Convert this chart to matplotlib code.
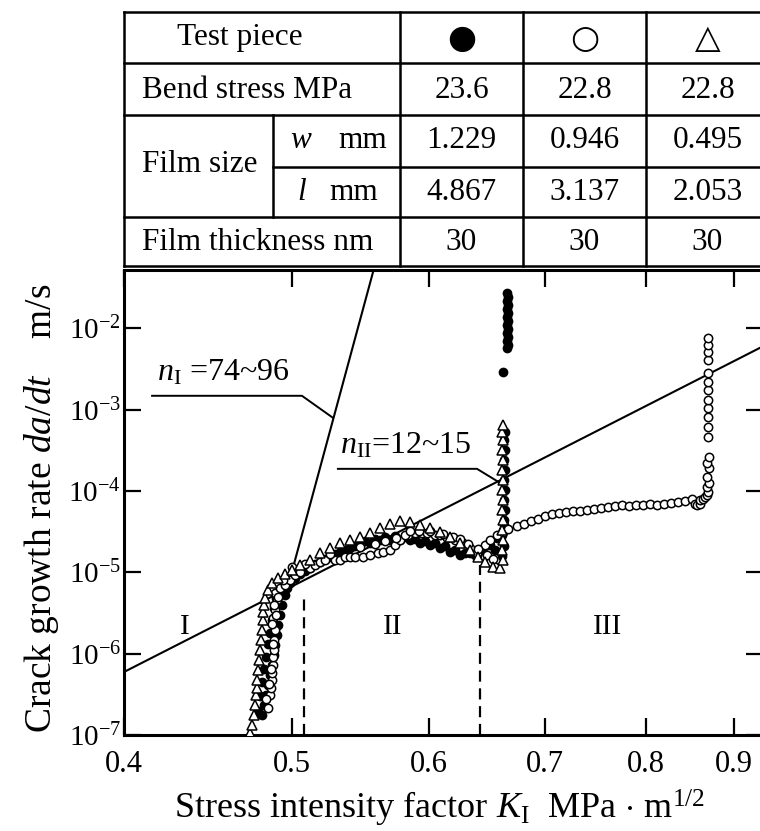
import matplotlib
matplotlib.use("Agg")
import matplotlib.pyplot as plt
from matplotlib.ticker import FixedLocator, NullLocator, FixedFormatter

plt.rcParams["font.family"] = ["Liberation Serif", "DejaVu Serif"]
plt.rcParams["mathtext.fontset"] = "custom"
plt.rcParams["mathtext.rm"] = "Liberation Serif"
plt.rcParams["mathtext.it"] = "Liberation Serif:italic"

# ---- table above the plot ----
test_pieces = ["\u25cf", "\u25cb", "\u25b3"]
bend_stress = ["23.6", "22.8", "22.8"]
film_w = ["1.229", "0.946", "0.495"]
film_l = ["4.867", "3.137", "2.053"]
film_thickness = ["30", "30", "30"]

# ---- measured crack growth data (K_I in MPa m^1/2, da/dt in m/s) ----
filled_K = [0.4804, 0.4817, 0.4830, 0.4843, 0.4856, 0.4869, 0.4882, 0.4888, 0.4901, 0.4908,
            0.4921, 0.4934, 0.4954, 0.4967, 0.4987, 0.5020, 0.5053, 0.5121, 0.5190, 0.5259,
            0.5330, 0.5401, 0.5473, 0.5546, 0.5620, 0.5695, 0.5771, 0.5849, 0.5927, 0.6006,
            0.6086, 0.6168, 0.6250, 0.6334, 0.6419, 0.6505, 0.6566, 0.6618,
            0.6627, 0.6636, 0.6627, 0.6636, 0.6627, 0.6636, 0.6627, 0.6636, 0.6627, 0.6636,
            0.6618,
            0.6650, 0.6660, 0.6650, 0.6660, 0.6650, 0.6660, 0.6650, 0.6660, 0.6650, 0.6660,
            0.6650, 0.6660, 0.6650, 0.6660, 0.6650,
            0.4779, 0.4792, 0.4804, 0.4817, 0.4830, 0.4843, 0.4856, 0.4869, 0.4882, 0.4895,
            0.4921, 0.4954, 0.5087, 0.5155, 0.5224, 0.5294, 0.5365, 0.5437, 0.5510, 0.5583,
            0.5658, 0.5733, 0.5810, 0.5888, 0.5967, 0.6046, 0.6127, 0.6209, 0.6292, 0.6377,
            0.6462, 0.6548, 0.6610, 0.6627, 0.6610, 0.6627]
filled_rate = [1.76e-7, 2.34e-7, 3.10e-7, 4.12e-7, 5.47e-7, 7.26e-7, 9.64e-7, 1.28e-6, 1.70e-6, 2.25e-6,
               2.99e-6, 3.97e-6, 5.27e-6, 6.43e-6, 7.41e-6, 8.53e-6, 9.56e-6, 1.13e-5, 1.34e-5, 1.55e-5,
               1.78e-5, 2.00e-5, 2.17e-5, 2.30e-5, 2.50e-5, 2.50e-5, 2.50e-5, 2.50e-5, 2.30e-5, 2.17e-5,
               2.00e-5, 1.78e-5, 1.64e-5, 1.73e-5, 1.89e-5, 2.17e-5, 2.65e-5, 3.32e-5,
               4.41e-5, 5.86e-5, 7.77e-5, 1.03e-4, 1.37e-4, 1.82e-4, 2.41e-4, 3.20e-4, 4.25e-4, 5.33e-4,
               2.92e-3,
               5.76e-3, 6.27e-3, 7.02e-3, 7.86e-3, 8.80e-3, 9.86e-3, 1.10e-2, 1.24e-2, 1.39e-2, 1.55e-2,
               1.74e-2, 1.95e-2, 2.18e-2, 2.44e-2, 2.73e-2,
               2.0e-7, 3.0e-7, 4.5e-7, 6.5e-7, 9.0e-7, 1.3e-6, 1.8e-6, 2.6e-6, 3.6e-6, 4.8e-6,
               6.0e-6, 7.0e-6, 1.05e-5, 1.25e-5, 1.45e-5, 1.70e-5, 1.90e-5, 2.10e-5, 2.40e-5, 2.60e-5,
               2.75e-5, 2.80e-5, 2.70e-5, 2.60e-5, 2.45e-5, 2.30e-5, 2.10e-5, 1.90e-5, 1.75e-5, 1.65e-5,
               1.70e-5, 1.90e-5, 1.6e-5, 2.1e-5, 2.9e-5, 3.8e-5]

open_K = [0.4843, 0.4856, 0.4862, 0.4869, 0.4869, 0.4875, 0.4875, 0.4882, 0.4882, 0.4888,
          0.4875, 0.4888, 0.4901, 0.4888, 0.4921, 0.4954, 0.4987, 0.5020, 0.5053, 0.5121,
          0.5155, 0.5190, 0.5224, 0.5294, 0.5330, 0.5365, 0.5401, 0.5437, 0.5495, 0.5546,
          0.5605, 0.5643, 0.5695, 0.5733, 0.5771, 0.5833, 0.5888, 0.5943, 0.5982, 0.6046,
          0.6086, 0.6143, 0.6209, 0.6276, 0.6334, 0.6394, 0.6462, 0.6505, 0.6548,
          0.6462, 0.6505, 0.6566, 0.6618, 0.6662, 0.6740, 0.6803, 0.6866, 0.6930, 0.6995,
          0.7061, 0.7127, 0.7193, 0.7260, 0.7328, 0.7396, 0.7465, 0.7535, 0.7605, 0.7676,
          0.7748, 0.7820, 0.7893, 0.7967, 0.8046, 0.8121, 0.8197, 0.8273, 0.8350, 0.8428,
          0.8507, 0.8541, 0.8564, 0.8598, 0.8598, 0.8633, 0.8656, 0.8679, 0.8690,
          0.8680, 0.8700, 0.8680, 0.8700, 0.8680, 0.8700, 0.8690, 0.8690, 0.8690, 0.8690,
          0.8690, 0.8690, 0.8690, 0.8690, 0.8690, 0.8690, 0.8690, 0.8690,
          0.4830, 0.4850, 0.4862, 0.4875, 0.4869, 0.4895, 0.4882, 0.4908, 0.4940, 0.5000,
          0.5087, 0.5259, 0.5470, 0.5580, 0.5660, 0.5740, 0.5810, 0.5850, 0.5920, 0.6010,
          0.6110, 0.6190, 0.6250, 0.6320, 0.6400, 0.6480, 0.6530]
open_rate = [2.15e-7, 3.10e-7, 3.79e-7, 4.75e-7, 5.79e-7, 7.26e-7, 9.11e-7, 1.11e-6, 1.47e-6, 1.96e-6,
             2.75e-6, 3.45e-6, 4.57e-6, 5.58e-6, 6.43e-6, 7.00e-6, 8.06e-6, 9.29e-6, 1.01e-5, 1.13e-5,
             1.23e-5, 1.34e-5, 1.42e-5, 1.42e-5, 1.42e-5, 1.55e-5, 1.55e-5, 1.55e-5, 1.55e-5, 1.64e-5,
             1.73e-5, 1.78e-5, 1.89e-5, 2.17e-5, 2.50e-5, 2.88e-5, 3.05e-5, 3.05e-5, 3.05e-5, 2.88e-5,
             2.88e-5, 2.65e-5, 2.50e-5, 2.30e-5, 2.00e-5, 1.73e-5, 1.55e-5, 1.34e-5, 1.17e-5,
             2.17e-5, 2.50e-5, 2.88e-5, 3.14e-5, 3.42e-5, 3.72e-5, 3.94e-5, 4.29e-5, 4.54e-5, 4.94e-5,
             5.23e-5, 5.38e-5, 5.53e-5, 5.69e-5, 5.69e-5, 5.86e-5, 6.02e-5, 6.20e-5, 6.37e-5, 6.56e-5,
             6.75e-5, 6.56e-5, 6.75e-5, 6.75e-5, 6.94e-5, 6.75e-5, 6.94e-5, 7.14e-5, 7.34e-5, 7.55e-5,
             7.99e-5, 6.94e-5, 6.75e-5, 6.94e-5, 7.77e-5, 7.99e-5, 8.46e-5, 8.95e-5, 9.75e-5,
             1.12e-4, 1.26e-4, 1.49e-4, 1.92e-4, 2.22e-4, 2.63e-4, 4.63e-4, 6.14e-4, 8.15e-4, 1.05e-3,
             1.32e-3, 1.75e-3, 2.20e-3, 2.84e-3, 4.10e-3, 5.14e-3, 6.27e-3, 7.64e-3,
             2.8e-7, 4.2e-7, 6.5e-7, 1.3e-6, 2.3e-6, 3.0e-6, 4.0e-6, 5.0e-6, 8.0e-6, 1.15e-5,
             1.25e-5, 1.70e-5, 2.05e-5, 2.25e-5, 2.45e-5, 2.65e-5, 2.90e-5, 3.20e-5, 3.25e-5, 3.20e-5,
             2.95e-5, 2.75e-5, 2.55e-5, 2.25e-5, 1.95e-5, 1.65e-5, 1.45e-5]

tri_K = [0.4728, 0.4741, 0.4753, 0.4760, 0.4766, 0.4772, 0.4772, 0.4779, 0.4785, 0.4792,
         0.4798, 0.4804, 0.4811, 0.4811, 0.4817, 0.4824, 0.4843, 0.4869, 0.4908, 0.4954,
         0.5000, 0.5053, 0.5121, 0.5190, 0.5259, 0.5330, 0.5401, 0.5473, 0.5546, 0.5620,
         0.5695, 0.5771, 0.5849, 0.5927, 0.6006, 0.6086, 0.6168, 0.6250, 0.6334, 0.6402,
         0.6462, 0.6531, 0.6592,
         0.6618, 0.6610, 0.6618, 0.6610, 0.6618, 0.6610, 0.6618, 0.6610, 0.6618, 0.6610,
         0.6618, 0.6610, 0.6618, 0.6610, 0.6618]
tri_rate = [1.06e-7, 1.33e-7, 1.76e-7, 2.34e-7, 3.10e-7, 3.79e-7, 4.75e-7, 6.30e-7, 8.37e-7, 1.11e-6,
            1.47e-6, 1.96e-6, 2.60e-6, 3.26e-6, 3.97e-6, 4.84e-6, 6.07e-6, 7.41e-6, 8.53e-6, 9.56e-6,
            1.07e-5, 1.23e-5, 1.42e-5, 1.73e-5, 2.00e-5, 2.30e-5, 2.50e-5, 2.72e-5, 3.05e-5, 3.52e-5,
            3.94e-5, 4.29e-5, 4.17e-5, 3.83e-5, 3.52e-5, 3.14e-5, 2.72e-5, 2.30e-5, 1.89e-5, 1.55e-5,
            1.34e-5, 1.17e-5, 1.13e-5,
            1.42e-5, 1.89e-5, 2.50e-5, 3.32e-5, 4.41e-5, 5.86e-5, 7.77e-5, 1.03e-4, 1.37e-4, 1.82e-4,
            2.41e-4, 3.20e-4, 4.25e-4, 5.33e-4, 6.50e-4]

# fitted power-law lines (region I steep, region II shallow) and region boundaries
line_I_K = [0.4987, 0.5573]
line_I_rate = [8.3e-6, 5.2e-2]
line_II_K = [0.40, 0.935]
line_II_rate = [5.95e-7, 6.0e-3]
boundary_K = [0.508, 0.642]
boundary_top = [5.0e-6, 1.23e-5]

W, H = 760, 831
fig = plt.figure(figsize=(W / 100, H / 100), dpi=100)

# main log-log axes (right spine falls just outside the picture)
ax = fig.add_axes([124 / W, 1 - 735 / H, 639 / W, 465 / H])
ax.set_xscale("log")
ax.set_yscale("log")
ax.set_xlim(0.4, 0.935)
ax.set_ylim(1e-7, 0.052)

ax.plot(filled_K, filled_rate, "o", ms=6, mfc="black", mec="black", mew=1.0, zorder=3)
ax.plot(open_K, open_rate, "o", ms=6, mfc="white", mec="black", mew=1.1, zorder=4)
ax.plot(tri_K, tri_rate, "^", ms=7, mfc="white", mec="black", mew=1.1, zorder=5)

ax.plot(line_I_K, line_I_rate, color="black", lw=1.5, zorder=2)
ax.plot(line_II_K, line_II_rate, color="black", lw=1.5, zorder=2)
for k, top in zip(boundary_K, boundary_top):
    ax.plot([k, k], [1e-7, top], color="black", lw=1.6, ls=(0, (5, 3)), zorder=2)

# leader lines for the slope labels
ax.plot([0.4152, 0.5067, 0.5280], [1.478e-3, 1.478e-3, 7.93e-4], color="black", lw=1.4)
ax.text(0.4179, 2.8e-3, r"$n_{\rm I}$ =74~96", fontsize=23, va="center", ha="left")
ax.plot([0.5315, 0.6394, 0.6592], [1.87e-4, 1.87e-4, 1.258e-4], color="black", lw=1.4)
ax.text(0.5330, 3.6e-4, r"$n_{\rm II}$=12~15", fontsize=23, va="center", ha="left")

for label, k in zip(["I", "II", "III"], [0.4338, 0.5718, 0.7605]):
    ax.text(k, 2.1e-6, label, fontsize=21, ha="center", va="center")

ax.xaxis.set_major_locator(FixedLocator([0.4, 0.5, 0.6, 0.7, 0.8, 0.9]))
ax.xaxis.set_major_formatter(FixedFormatter(["0.4", "0.5", "0.6", "0.7", "0.8", "0.9"]))
ax.xaxis.set_minor_locator(NullLocator())
yt = [1e-7, 1e-6, 1e-5, 1e-4, 1e-3, 1e-2]
ax.yaxis.set_major_locator(FixedLocator(yt))
ax.yaxis.set_major_formatter(FixedFormatter([r"$\mathregular{10^{-%d}}$" % n for n in range(7, 1, -1)]))
ax.yaxis.set_minor_locator(NullLocator())
ax.tick_params(which="both", direction="in", top=True, right=True, length=12, width=1.6)
ax.tick_params(axis="x", labelsize=22, pad=11)
ax.tick_params(axis="y", labelsize=21, pad=2)
for s in ax.spines.values():
    s.set_linewidth(2.2)

fig.text(440 / W, 1 - 808 / H, r"Stress intensity factor $K_{\rm I}$  MPa $\cdot$ m$^{1/2}$",
         fontsize=26, ha="center", va="center")
fig.text(42 / W, 1 - 508 / H, r"Crack growth rate $da/dt$    m/s",
         fontsize=27, ha="center", va="center", rotation=90)

# ---- table drawn in pixel coordinates ----
tab = fig.add_axes([0, 0, 1, 1], zorder=-1)
tab.set_xlim(0, W)
tab.set_ylim(H, 0)
tab.axis("off")
lw = 1.8
for y in [12, 63, 115, 217, 266]:
    tab.plot([124, 770], [y, y], color="black", lw=lw)
tab.plot([273, 770], [167, 167], color="black", lw=lw)
for x in [124, 400, 523, 646]:
    tab.plot([x, x], [12, 266], color="black", lw=lw)
tab.plot([273, 273], [115, 217], color="black", lw=lw)

fs = 22.5
tab.text(240, 38, "Test piece", fontsize=fs, ha="center", va="center")
tab.text(142, 90, "Bend stress MPa", fontsize=fs, ha="left", va="center")
tab.text(142, 165, "Film size", fontsize=fs, ha="left", va="center")
tab.text(290, 141, "w", fontsize=fs, ha="left", va="center", style="italic")
tab.text(387, 141, "mm", fontsize=fs, ha="right", va="center")
tab.text(297, 192, "l", fontsize=fs, ha="left", va="center", style="italic")
tab.text(378, 192, "mm", fontsize=fs, ha="right", va="center")
tab.text(142, 242, "Film thickness nm", fontsize=fs, ha="left", va="center")

col_x = [461.5, 584.5, 707.5]
for cx, sym, bs, w, l, t in zip(col_x, test_pieces, bend_stress, film_w, film_l, film_thickness):
    tab.text(cx, 38, sym, fontsize=24, ha="center", va="center", family=["DejaVu Sans"])
    tab.text(cx, 91, bs, fontsize=fs, ha="center", va="center")
    tab.text(cx, 141, w, fontsize=fs, ha="center", va="center")
    tab.text(cx, 192, l, fontsize=fs, ha="center", va="center")
    tab.text(cx, 242, t, fontsize=fs, ha="center", va="center")

fig.savefig("out.png", dpi=100)
